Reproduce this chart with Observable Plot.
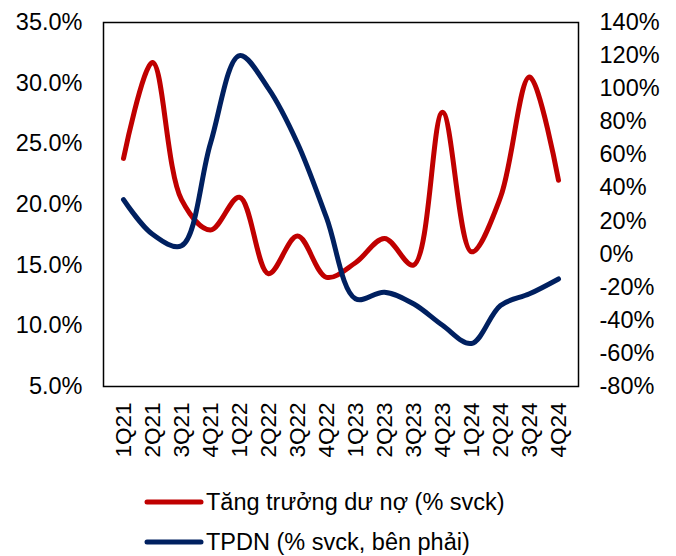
<!DOCTYPE html>
<html>
<head>
<meta charset="utf-8">
<script src="https://cdn.jsdelivr.net/npm/d3@7"></script>
<script src="https://cdn.jsdelivr.net/npm/@observablehq/plot@0.6"></script>
<style>
  body { margin: 0; background: #fff; font-family: "Liberation Sans", Arial, sans-serif; }
  #legend { position: relative; width: 676px; height: 86px; }
  .row { position: absolute; left: 143px; display: flex; align-items: center; font-size: 23.5px; color: #000; }
  .row svg { margin-right: 1px; }
</style>
</head>
<body>
<div id="chart"></div>
<div id="legend"></div>
<script>
const quarters = ["1Q21","2Q21","3Q21","4Q21","1Q22","2Q22","3Q22","4Q22","1Q23","2Q23","3Q23","4Q23","1Q24","2Q24","3Q24","4Q24"];
const creditGrowth = [23.8, 31.7, 20.4, 17.9, 20.6, 14.3, 17.4, 14.0, 15.2, 17.2, 15.0, 27.6, 16.1, 20.6, 30.5, 22.0];
const bondGrowth = [33, 12, 5, 67, 120, 100, 67, 22, -27, -23, -30, -43, -54, -31, -24, -15];
const leftTicks = [5, 10, 15, 20, 25, 30, 35];
const rightTicks = [-80, -60, -40, -20, 0, 20, 40, 60, 80, 100, 120, 140];
const seriesNames = ["Tăng trưởng dư nợ (% svck)", "TPDN (% svck, bên phải)"];
const seriesColors = ["#C00000", "#002060"];

const leftMin = 5, leftMax = 35, rightMin = -80, rightMax = 140;
const toLeft = v => leftMin + (v - rightMin) / (rightMax - rightMin) * (leftMax - leftMin);
const toRight = v => rightMin + (v - leftMin) / (leftMax - leftMin) * (rightMax - rightMin);

const red = quarters.map((q, i) => ({q, v: creditGrowth[i]}));
const blue = quarters.map((q, i) => ({q, v: toLeft(bondGrowth[i])}));

const chart = Plot.plot({
  width: 676,
  height: 470,
  marginLeft: 103,
  marginRight: 98,
  marginTop: 22,
  marginBottom: 84,
  style: {fontFamily: "'Liberation Sans', Arial, sans-serif", fontSize: "23.5px", color: "#000", background: "#fff"},
  x: {type: "point", domain: quarters, padding: 0.5},
  y: {domain: [leftMin, leftMax]},
  marks: [
    Plot.axisY(leftTicks, {anchor: "left", tickSize: 0, tickPadding: 21, tickFormat: d => d.toFixed(1) + "%", label: null}),
    Plot.axisY(rightTicks.map(toLeft), {anchor: "right", tickSize: 0, tickPadding: 21, tickFormat: d => Math.round(toRight(d)) + "%", label: null, textAnchor: "start"}),
    Plot.axisX({tickSize: 0, tickRotate: -90, tickPadding: 16, label: null, fontSize: "22.5px"}),
    Plot.line(red, {x: "q", y: "v", stroke: seriesColors[0], strokeWidth: 5, curve: "catmull-rom"}),
    Plot.line(blue, {x: "q", y: "v", stroke: seriesColors[1], strokeWidth: 5, curve: "catmull-rom"}),
    Plot.frame({stroke: "#000", strokeWidth: 1.5})
  ]
});
document.getElementById("chart").appendChild(chart);

const legend = document.getElementById("legend");
seriesNames.forEach((name, i) => {
  const row = document.createElement("div");
  row.className = "row";
  row.style.top = (i === 0 ? 18 : 58) + "px";
  row.style.height = "28px";
  row.innerHTML = `<svg width="62" height="10"><line x1="4" y1="5" x2="58" y2="5" stroke="${seriesColors[i]}" stroke-width="5" stroke-linecap="round"/></svg><span>${name}</span>`;
  legend.appendChild(row);
});
</script>
</body>
</html>
